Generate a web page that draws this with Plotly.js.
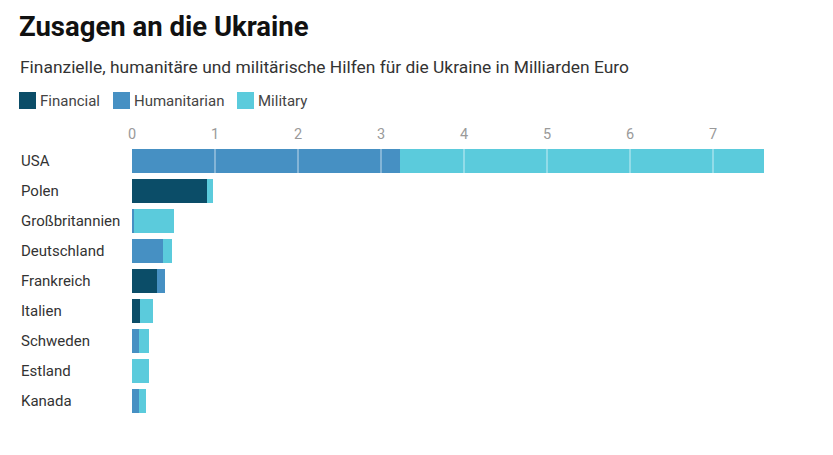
<!DOCTYPE html>
<html><head><meta charset="utf-8">
<script src="https://cdn.plot.ly/plotly-3.0.1.min.js"></script>
<style>body{margin:0;background:#fff}#c{width:833px;height:455px}</style>
</head><body><div id="c"></div>
<script>
const countries = ["USA","Polen","Großbritannien","Deutschland","Frankreich","Italien","Schweden","Estland","Kanada"];
const financial    = [0,    0.90, 0,    0,    0.30, 0.10, 0,    0,    0];
const humanitarian = [3.23, 0,    0.03, 0.37, 0.10, 0,    0.09, 0,    0.08];
const military     = [4.38, 0.07, 0.48, 0.11, 0,    0.15, 0.12, 0.21, 0.085];
const seriesNames = ["Financial","Humanitarian","Military"];
const colors = ["#0b4d68","#4690c3","#5bcbdc"];
const xTicks = [0,1,2,3,4,5,6,7];

const font = "Roboto, 'Noto Sans', sans-serif";
// plot-area geometry (pixels) used to convert layout positions to paper coords
const L = 132, R = 37, T = 146, B = 39, W = 833, H = 455;
const pw = W - L - R, ph = H - T - B;
const px = x => (x - L) / pw;
const py = y => (H - B - y) / ph;
const legendLeft = [19, 113, 237];

const data = [financial, humanitarian, military].map((v,i)=>({
  type:"bar", orientation:"h", y:countries, x:v, name:seriesNames[i],
  marker:{color:colors[i], line:{width:0}}, hoverinfo:"x+name"
}));

const shapes = xTicks.filter(v=>v>0).map(v=>({type:"line", layer:"above", xref:"x", yref:"paper", x0:v, x1:v, y0:0, y1:1,
          line:{color:"rgba(255,255,255,0.45)", width:1.5}}));
seriesNames.forEach((n,i)=>{
  shapes.push({type:"rect", xref:"paper", yref:"paper", x0:px(legendLeft[i]), x1:px(legendLeft[i]+17),
    y0:py(109), y1:py(92), fillcolor:colors[i], line:{width:0}, layer:"above"});
});

const annotations = [
  {text:"Finanzielle, humanitäre und militärische Hilfen für die Ukraine in Milliarden Euro", xref:"paper", yref:"paper",
   x:px(18), xanchor:"left", y:py(67), yanchor:"middle", showarrow:false,
   font:{family:font, size:17.4, color:"#333"}}
].concat(countries.map(c=>({text:c, xref:"paper", yref:"y", x:px(19), xanchor:"left", y:c, yanchor:"middle",
   showarrow:false, font:{family:font, size:15, color:"#333"}})))
 .concat(seriesNames.map((n,i)=>({text:n, xref:"paper", yref:"paper", x:px(legendLeft[i]+19), xanchor:"left",
   y:py(100.5), yanchor:"middle", showarrow:false, font:{family:font, size:15, color:"#444"}})));

const layout = {
  width:W, height:H,
  margin:{l:L, r:R, t:T, b:B},
  paper_bgcolor:"#fff", plot_bgcolor:"#fff",
  font:{family:font, color:"#333"},
  barmode:"stack", bargap:0.17,
  showlegend:false,
  title:{text:"<b>Zusagen an die Ukraine</b>", font:{family:font, size:27.5, color:"#111"},
         xref:"container", x:19/W, xanchor:"left", yref:"container", y:1-26/H, yanchor:"middle"},
  xaxis:{side:"top", range:[0,8], tickvals:xTicks, ticks:"", showgrid:false, zeroline:false,
         showline:false, ticklabelstandoff:3, tickfont:{family:font, size:14.5, color:"#9a9a9a"}, fixedrange:true},
  yaxis:{autorange:"reversed", showticklabels:false, ticks:"", showgrid:false, zeroline:false, showline:false, fixedrange:true},
  shapes: shapes,
  annotations: annotations
};
Plotly.newPlot("c", data, layout, {displayModeBar:false, staticPlot:true});
</script></body></html>
